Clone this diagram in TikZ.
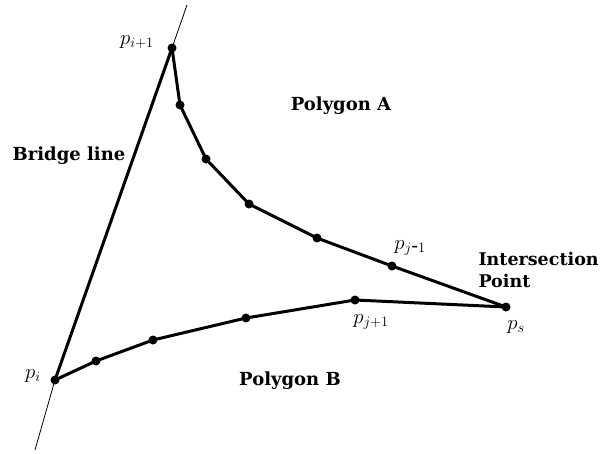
\documentclass[tikz,border=0pt]{standalone}
\usepackage{fontspec}
\setmainfont{DejaVu Serif}
\begin{document}
\begin{tikzpicture}[x=1pt,y=-1pt,
  vtx/.style={circle,fill=black,inner sep=0pt,minimum size=9pt},
  edge/.style={line width=3pt,line join=round},
  thin/.style={line width=0.8pt},
  lbl/.style={font=\bfseries\fontsize{18}{22}\selectfont,align=left},
  mlbl/.style={font=\fontsize{20}{22}\selectfont}]
\useasboundingbox (0,0) rectangle (605,453);
\coordinate (top) at (187,5);
\coordinate (bot) at (35,450);
\node[vtx] (pi1) at (172,48) {};
\node[vtx] (a1) at (180,105) {};
\node[vtx] (a2) at (206,159) {};
\node[vtx] (a3) at (249,204) {};
\node[vtx] (a4) at (317,238) {};
\node[vtx] (pj1) at (392,266) {};
\node[vtx] (ps) at (506,307) {};
\node[vtx] (pi) at (55,380) {};
\node[vtx] (b1) at (96,361) {};
\node[vtx] (b2) at (153,340) {};
\node[vtx] (b3) at (246,318) {};
\node[vtx] (pjp) at (355,300) {};
\draw[thin] (top) -- (pi1.center);
\draw[thin] (pi.center) -- (bot);
\draw[edge] (pi1.center) -- (pi.center);
\draw[edge] (pi1.center) -- (a1.center) -- (a2.center) -- (a3.center) -- (a4.center) -- (pj1.center) -- (ps.center);
\draw[edge] (pi.center) -- (b1.center) -- (b2.center) -- (b3.center) -- (pjp.center) -- (ps.center);
\node[mlbl] (lpi1) at (137,42) {$p_{i+1}$};
\node[mlbl] (lpj1) at (410,248) {$p_{j\mbox{-}1}$};
\node[mlbl] (lpjp) at (371,322) {$p_{j+1}$};
\node[mlbl] (lps) at (516,327) {$p_s$};
\node[mlbl] (lpi) at (33,376) {$p_i$};
\node[lbl] (pa) at (341,106) {Polygon A};
\node[lbl] (pb) at (290,381) {Polygon B};
\node[lbl] (br) at (69,156) {Bridge line};
\node[lbl,anchor=west,font=\bfseries\fontsize{17.5}{22}\selectfont] (ip) at (475,270) {Intersection\\Point};
\end{tikzpicture}
\end{document}
